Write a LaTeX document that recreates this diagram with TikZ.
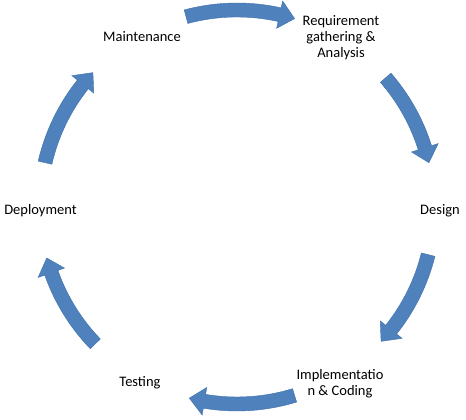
\documentclass[tikz,border=0pt]{standalone}
\usepackage{fontspec}
\setmainfont{Carlito}
\definecolor{arrowblue}{HTML}{4F81BD}
\definecolor{arrowedge}{HTML}{3F70AA}
\begin{document}
\begin{tikzpicture}[x=1pt,y=1pt,
  lbl/.style={font=\fontsize{14.5}{16}\selectfont, text=black, inner sep=0pt, align=center},
  blockarrow/.style={fill=arrowblue, draw=arrowedge, line width=0.4pt, line join=miter}]
\useasboundingbox (0,0) rectangle (466,420);
% circular block arrows (clockwise), args: tail angle, head-base angle, tip angle
\newcommand{\cyclearrow}[3]{%
  \path[blockarrow] (#1:204) arc[start angle=#1, end angle=#2, radius=204]
    -- (#2:211) -- (#3:197) -- (#2:183) -- (#2:190)
    arc[start angle=#2, end angle=#1, radius=190] -- cycle;}
\begin{scope}[shift={(237,213)}]
  \cyclearrow{105}{77.5}{73}
  \cyclearrow{41}{17.5}{13}
  \cyclearrow{-14}{-38.5}{-43}
  \cyclearrow{-73}{-99.5}{-104}
  \cyclearrow{-136}{-160.5}{-165}
  \cyclearrow{167}{141.5}{137}
\end{scope}
\node[lbl] (maint) at (142,383) {Maintenance};
\node[lbl] (req) at (341,382) {Requirement\\gathering \&\\Analysis};
\node[lbl] (design) at (440,209) {Design};
\node[lbl] (impl) at (340,36) {Implementatio\\n \& Coding};
\node[lbl] (test) at (140,37) {Testing};
\node[lbl] (deploy) at (40.5,209) {Deployment};
\end{tikzpicture}
\end{document}
